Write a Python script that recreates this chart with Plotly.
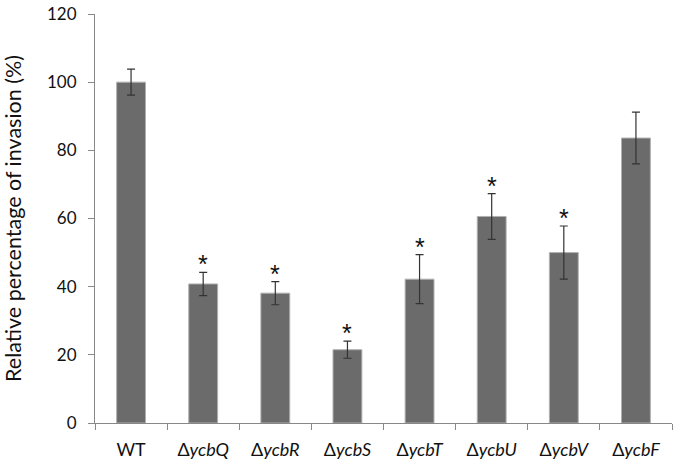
import plotly.graph_objects as go

categories = ["WT", "ΔycbQ", "ΔycbR", "ΔycbS", "ΔycbT", "ΔycbU", "ΔycbV", "ΔycbF"]
tick_labels = ["WT", "Δ<i>ycbQ</i>", "Δ<i>ycbR</i>", "Δ<i>ycbS</i>", "Δ<i>ycbT</i>",
               "Δ<i>ycbU</i>", "Δ<i>ycbV</i>", "Δ<i>ycbF</i>"]
values = [100.0, 40.8, 38.1, 21.5, 42.2, 60.6, 50.0, 83.6]
errors = [3.8, 3.4, 3.4, 2.5, 7.2, 6.7, 7.8, 7.6]
significant = [False, True, True, True, True, True, True, False]

FONT = "Lato, Open Sans, sans-serif"

fig = go.Figure()
fig.add_trace(go.Bar(
    x=categories, y=values,
    marker=dict(color="#6b6b6b", line=dict(color="#b0b0b0", width=1)),
    error_y=dict(type="data", array=errors, visible=True, color="#333333",
                 thickness=1.2, width=4),
    width=0.4,
))

for c, v, e, s in zip(categories, values, errors, significant):
    if s:
        fig.add_annotation(x=c, y=v + e, text="*", showarrow=False,
                           yanchor="bottom", yshift=-8,
                           font=dict(size=25, color="#111111", family="Liberation Sans"))

fig.update_layout(
    width=675, height=463,
    margin=dict(l=95, r=3, t=8, b=39),
    paper_bgcolor="white", plot_bgcolor="white",
    showlegend=False,
    font=dict(family=FONT, color="#111111"),
)
fig.update_xaxes(
    tickmode="array", tickvals=categories, ticktext=tick_labels,
    tickson="boundaries", ticks="outside", ticklen=6, tickcolor="#888888",
    showline=True, linecolor="#888888", linewidth=1,
    tickfont=dict(size=18, family=FONT),
    ticklabelstandoff=10,
    showgrid=False,
)
fig.update_yaxes(
    range=[0, 120], dtick=20, ticks="outside", ticklen=6, tickcolor="#888888",
    showline=True, linecolor="#888888", linewidth=1, showgrid=False, zeroline=False,
    tickfont=dict(size=17, family=FONT),
    ticklabeloverflow="allow",
    ticklabelstandoff=8,
    title=dict(text="Relative percentage of invasion (%)", standoff=28,
               font=dict(size=21.5, family=FONT)),
)

fig.write_html("out.html", config={"displayModeBar": False},
               post_script="document.body.style.margin='0';document.body.style.padding='0';")
